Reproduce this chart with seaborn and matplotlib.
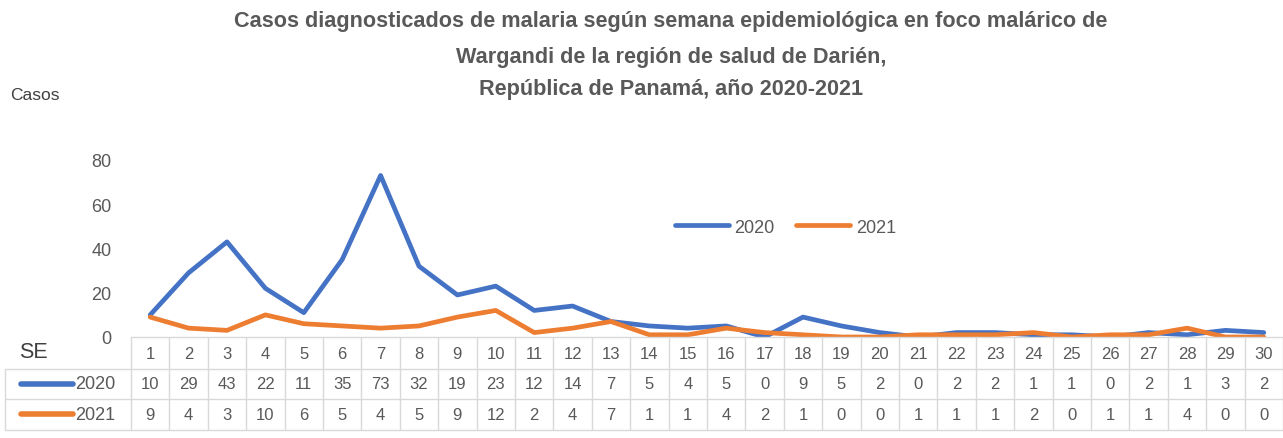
import pandas as pd
import seaborn as sns
import matplotlib
matplotlib.use('Agg')
import matplotlib.pyplot as plt
from matplotlib.transforms import blended_transform_factory
from matplotlib.lines import Line2D

sns.set_style('white')
plt.rcParams['font.family'] = ['Liberation Sans Narrow', 'Liberation Sans', 'DejaVu Sans']

# datos por semana epidemiológica
semanas = list(range(1, 31))
casos_2020 = [10, 29, 43, 22, 11, 35, 73, 32, 19, 23, 12, 14, 7, 5, 4, 5, 0, 9, 5, 2,
              0, 2, 2, 1, 1, 0, 2, 1, 3, 2]
casos_2021 = [9, 4, 3, 10, 6, 5, 4, 5, 9, 12, 2, 4, 7, 1, 1, 4, 2, 1, 0, 0,
              1, 1, 1, 2, 0, 1, 1, 4, 0, 0]
anios = ['2020', '2021']
colores = ['#4472C4', '#ED7D31']

df = pd.DataFrame({
    'SE': semanas * 2,
    'Casos': casos_2020 + casos_2021,
    'Año': ['2020'] * 30 + ['2021'] * 30,
})

W, H = 1283, 439
fig = plt.figure(figsize=(W / 100, H / 100), dpi=100)
ax = fig.add_axes([131 / W, 101 / H, 1 - 131 / W, 177 / H])

sns.lineplot(data=df, x='SE', y='Casos', hue='Año', palette=colores, linewidth=3.4,
             sort=False, ax=ax, legend=False)

gris = '#595959'
borde = '#D9D9D9'
ax.set_xlim(0.5, 30.5)
ax.set_ylim(0, 80)
ax.set_yticks([0, 20, 40, 60, 80])
ax.tick_params(axis='y', labelsize=13, labelcolor=gris, length=0, pad=14)
ax.set_xticks([])
ax.set_xlabel('')
ax.set_ylabel('')
for s in ['top', 'right', 'left']:
    ax.spines[s].set_visible(False)
ax.spines['bottom'].set_color(borde)
ax.spines['bottom'].set_linewidth(1)

# leyenda
handles = [Line2D([0], [0], color=c, lw=3.4, solid_capstyle='round') for c in colores]
ax.legend(handles, anios, loc='center', bbox_to_anchor=(0.568, 0.62), ncol=2, frameon=False,
          fontsize=13, labelcolor=gris, handlelength=3.0, handletextpad=0.3, columnspacing=1.2)

# titulo
for texto, y in [('Casos diagnosticados de malaria según semana epidemiológica en foco malárico de', 22),
                 ('Wargandi de la región de salud de Darién,', 57),
                 ('República de Panamá, año 2020-2021', 90)]:
    fig.text(671 / W, 1 - y / H, texto, ha='center', va='center', fontsize=15.6,
             fontweight='bold', color=gris)
fig.text(10 / W, 1 - 95 / H, 'Casos', ha='left', va='center', fontsize=12.5, color='#404040')

# tabla de datos
tr = blended_transform_factory(ax.transData, fig.transFigure)
px = lambda y: 1 - y / H
fila_y = [355, 385, 415]
lineas_y = [370, 400, 431]
filas = [semanas, casos_2020, casos_2021]
for fila, y in zip(filas, fila_y):
    for s, v in zip(semanas, fila):
        ax.text(s, px(y), str(v), transform=tr, ha='center', va='center',
                fontsize=12, color=gris, clip_on=False)
for k in range(31):
    ax.add_line(Line2D([k + 0.5, k + 0.5], [px(338), px(431)], transform=tr,
                       color=borde, lw=1, clip_on=False))
for y in lineas_y:
    fig.add_artist(Line2D([5 / W, 1], [px(y), px(y)], color=borde, lw=1))
fig.add_artist(Line2D([5 / W, 5 / W], [px(370), px(431)], color=borde, lw=1))
fig.text(33 / W, px(353), 'SE', ha='center', va='center', fontsize=15.5, color='#404040')
for i, (a, c) in enumerate(zip(anios, colores)):
    y = px(fila_y[i + 1])
    fig.add_artist(Line2D([21 / W, 73 / W], [y, y], color=c, lw=4, solid_capstyle='round'))
    fig.text(75 / W, y, a, ha='left', va='center', fontsize=13, color=gris)

fig.savefig('out.png', dpi=100)
